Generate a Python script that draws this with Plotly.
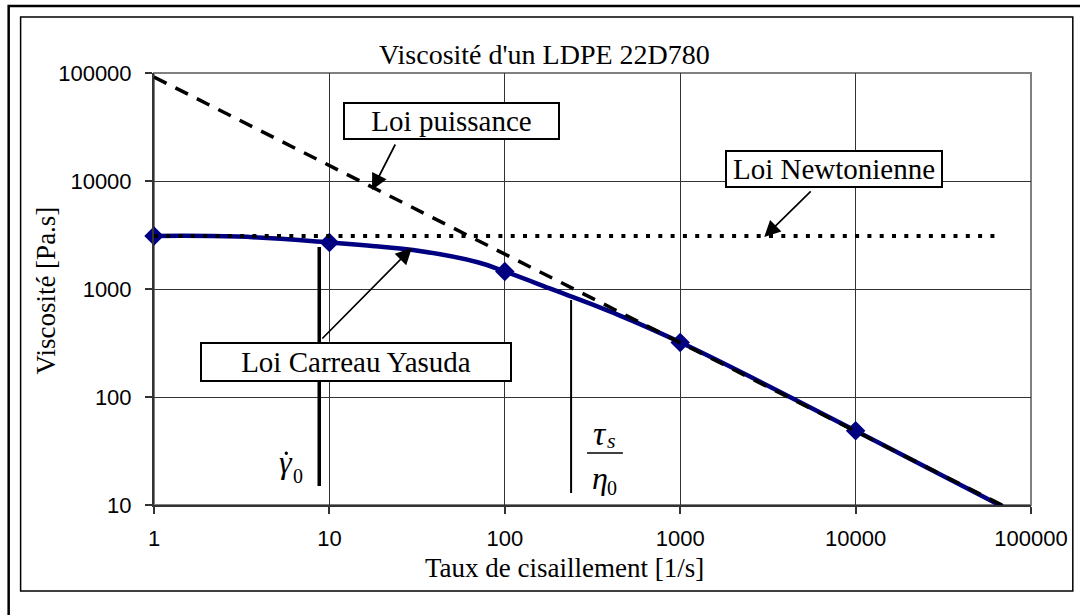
import plotly.graph_objects as go

# ---- data ----
mesure_x = [1, 10, 100, 1000, 10000]
mesure_y = [3100, 2690, 1450, 320, 48.7]

carreau_x = [1, 3, 10, 17.5, 30, 70, 100, 190, 400, 1000, 10000, 63000, 100000]
carreau_y = [3100, 3055, 2700, 2500, 2300, 1770, 1450, 980, 617, 321, 48.7, 10.4, 7.1]

puissance_x = [1, 100000]
puissance_y = [91800, 7.3]

newton_x = [1, 68000]
newton_y = [3100, 3100]

tick_vals_x = [1, 10, 100, 1000, 10000, 100000]
tick_text_x = ["1", "10", "100", "1000", "10000", "100000"]
tick_vals_y = [10, 100, 1000, 10000, 100000]
tick_text_y = ["10", "100", "1000", "10000", "100000"]

title_text = "Viscosité d'un LDPE 22D780"
xtitle_text = "Taux de cisaillement [1/s]"
ytitle_text = "Viscosité [Pa.s]"

# ---- layout geometry (pixels) ----
W, H = 1080, 615
L, R, T, B = 154, 1035, 73, 505


def px(x):
    return (x - L) / (R - L)


def py(y):
    return (B - y) / (B - T)


SERIF = "Liberation Serif, Times New Roman, serif"
SANS = "Liberation Sans, Arial, sans-serif"

fig = go.Figure()
fig.add_trace(go.Scatter(x=carreau_x, y=carreau_y, mode="lines",
                         line=dict(color="#000080", width=4.5, shape="spline", smoothing=1.3),
                         hoverinfo="skip"))
fig.add_trace(go.Scatter(x=mesure_x, y=mesure_y, mode="markers",
                         marker=dict(symbol="diamond", size=15, color="#000080"),
                         cliponaxis=False))
fig.add_trace(go.Scatter(x=puissance_x, y=puissance_y, mode="lines",
                         line=dict(color="black", width=3.5, dash="14px,10px")))
fig.add_trace(go.Scatter(x=newton_x, y=newton_y, mode="lines",
                         line=dict(color="black", width=4, dash="4px,8.3px")))

shapes = []
# outer frames
shapes.append(dict(type="rect", xref="paper", yref="paper",
                   x0=px(8), x1=px(1100), y0=py(640), y1=py(6),
                   line=dict(color="black", width=2.5), layer="below"))
shapes.append(dict(type="rect", xref="paper", yref="paper",
                   x0=px(20), x1=px(1077), y0=py(591), y1=py(17),
                   line=dict(color="black", width=1.5), layer="below"))
# plot area border
shapes.append(dict(type="rect", xref="paper", yref="paper",
                   x0=0, x1=1, y0=0, y1=1,
                   line=dict(color="#808080", width=2), layer="below"))
# gamma dot 0 marker line
shapes.append(dict(type="line", xref="paper", yref="paper",
                   x0=px(320), x1=px(320), y0=py(247), y1=py(486),
                   line=dict(color="black", width=3.5)))
# tau_s/eta_0 marker line
shapes.append(dict(type="line", xref="paper", yref="paper",
                   x0=px(573), x1=px(573), y0=py(300), y1=py(493),
                   line=dict(color="black", width=2)))
# fraction bar
shapes.append(dict(type="line", xref="paper", yref="paper",
                   x0=px(589), x1=px(625), y0=py(453), y1=py(453),
                   line=dict(color="black", width=1.5)))
# dot over gamma
shapes.append(dict(type="circle", xref="paper", yref="paper",
                   x0=px(285.2), x1=px(288.6), y0=py(455), y1=py(451.6),
                   line=dict(width=0), fillcolor="black"))

ann = []
ann.append(dict(text=title_text, xref="paper", yref="paper", x=px(546), y=py(54),
                showarrow=False, font=dict(family=SERIF, size=28, color="black"),
                xanchor="center", yanchor="middle"))
ann.append(dict(text=xtitle_text, xref="paper", yref="paper", x=px(566), y=py(568),
                showarrow=False, font=dict(family=SERIF, size=27, color="black"),
                xanchor="center", yanchor="middle"))
ann.append(dict(text=ytitle_text, xref="paper", yref="paper", x=px(46), y=py(290),
                showarrow=False, textangle=-90, font=dict(family=SERIF, size=27, color="black"),
                xanchor="center", yanchor="middle"))


# labelled boxes
def box(text, cx, cy, w, h):
    return dict(text=text, xref="paper", yref="paper", x=px(cx), y=py(cy),
                showarrow=False, font=dict(family=SERIF, size=29, color="black"),
                xanchor="center", yanchor="middle", bgcolor="white",
                bordercolor="black", borderwidth=2, borderpad=1,
                width=w - 6, height=h - 6)


ann.append(box("Loi puissance", 452.5, 121, 217, 38))
ann.append(box("Loi Newtonienne", 837, 169, 218, 38))
ann.append(box("Loi Carreau Yasuda", 357, 362, 312, 40))


# arrows
def arrow(x0, y0, x1, y1):
    return dict(text="", xref="paper", yref="paper", x=px(x1), y=py(y1),
                axref="pixel", ayref="pixel", ax=x0 - x1, ay=y0 - y1,
                showarrow=True, arrowhead=2, arrowsize=1.9, arrowwidth=1.7,
                arrowcolor="black", standoff=0, startstandoff=0)


ann.append(arrow(397, 143, 373, 190))
ann.append(arrow(815, 190, 767, 237))
ann.append(arrow(322, 340, 413, 248))


# math labels
def mtext(text, cx, cy, size):
    return dict(text=text, xref="paper", yref="paper", x=px(cx), y=py(cy),
                showarrow=False, font=dict(family=SERIF, size=size, color="black"),
                xanchor="center", yanchor="middle")


ann.append(mtext("<i>γ</i>", 286.5, 462, 32))
ann.append(mtext("0", 299, 476, 20))
ann.append(mtext("<i>τ</i>", 602, 433, 34))
ann.append(mtext("<i>s</i>", 614, 440, 22))
ann.append(mtext("<i>η</i>", 602, 478, 32))
ann.append(mtext("0", 614, 488, 20))

fig.update_layout(
    width=W, height=H,
    margin=dict(l=L, r=W - R, t=T, b=H - B, pad=0),
    paper_bgcolor="white", plot_bgcolor="white",
    showlegend=False,
    shapes=shapes, annotations=ann,
    xaxis=dict(type="log", range=[0, 5], tickvals=tick_vals_x, ticktext=tick_text_x,
               showgrid=True, gridcolor="#333333", gridwidth=1,
               showline=True, linecolor="#333333", linewidth=2,
               ticks="outside", ticklen=7, tickcolor="#333333", tickwidth=1.5,
               tickfont=dict(family=SANS, size=22, color="black"),
               ticklabelstandoff=6,
               zeroline=False, fixedrange=True),
    yaxis=dict(type="log", range=[1, 5], tickvals=tick_vals_y, ticktext=tick_text_y,
               showgrid=True, gridcolor="#333333", gridwidth=1,
               showline=True, linecolor="#333333", linewidth=2,
               ticks="outside", ticklen=7, tickcolor="#333333", tickwidth=1.5,
               tickfont=dict(family=SANS, size=22, color="black"),
               ticklabelstandoff=9,
               zeroline=False, fixedrange=True),
)

fig.write_html("out.html", config={"displayModeBar": False},
               post_script="document.body.style.margin='0';")
